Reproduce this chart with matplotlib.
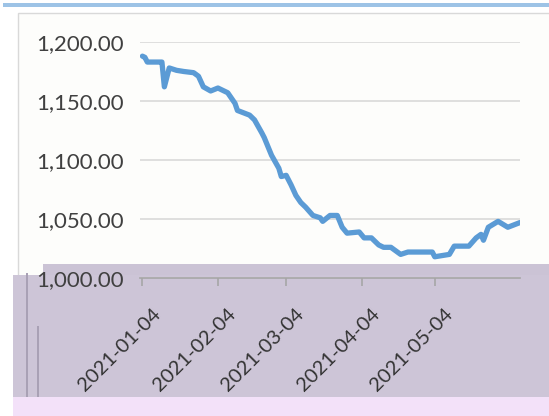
import matplotlib
matplotlib.use('Agg')
import matplotlib.pyplot as plt
from matplotlib.patches import Rectangle
from matplotlib.ticker import FuncFormatter
from matplotlib.transforms import ScaledTranslation
import numpy as np

# values (daily close, 2021)
dates = ['2021-01-04', '2021-01-05', '2021-01-06', '2021-01-11', '2021-01-12',
         '2021-01-13', '2021-01-15', '2021-01-18', '2021-01-21', '2021-01-25',
         '2021-01-27', '2021-01-29', '2021-02-01', '2021-02-04', '2021-02-08',
         '2021-02-11', '2021-02-12', '2021-02-17', '2021-02-19', '2021-02-22',
         '2021-02-23', '2021-02-26', '2021-03-01', '2021-03-02', '2021-03-04',
         '2021-03-06', '2021-03-08', '2021-03-10', '2021-03-12', '2021-03-15',
         '2021-03-18', '2021-03-19', '2021-03-22', '2021-03-25', '2021-03-27',
         '2021-03-29', '2021-04-03', '2021-04-05', '2021-04-08', '2021-04-11',
         '2021-04-13', '2021-04-16', '2021-04-20', '2021-04-23', '2021-05-03',
         '2021-05-04', '2021-05-10', '2021-05-12', '2021-05-18', '2021-05-21',
         '2021-05-23', '2021-05-24', '2021-05-26', '2021-05-30', '2021-06-03',
         '2021-06-08']
values = [1188, 1187, 1183, 1183, 1183,
          1162, 1178, 1176, 1175, 1174,
          1171, 1162, 1158.5, 1161, 1157,
          1148, 1142, 1138, 1134, 1123,
          1119, 1104, 1093, 1086, 1087,
          1079, 1070, 1064, 1060, 1053,
          1051, 1048, 1053, 1053, 1043,
          1038, 1039, 1034, 1034, 1028,
          1026, 1026, 1020, 1022, 1022,
          1018, 1020, 1027, 1027, 1034,
          1037, 1032, 1043, 1048, 1043,
          1047]
tick_dates = ['2021-01-04', '2021-02-04', '2021-03-04', '2021-04-04', '2021-05-04']
y_ticks = [1000, 1050, 1100, 1150, 1200]

x = np.array(dates, dtype='datetime64[D]')
xt = np.array(tick_dates, dtype='datetime64[D]')

fig = plt.figure(figsize=(5.49, 4.16), dpi=100)
W, H = 549.0, 416.0

# background pieces of the screenshot (figure pixel coords, y from top)
def px_rect(x0, y0, x1, y1, **kw):
    r = Rectangle((x0 / W, 1 - y1 / H), (x1 - x0) / W, (y1 - y0) / H,
                  transform=fig.transFigure, **kw)
    fig.patches.append(r)

px_rect(3, 3, 549, 6.5, facecolor='#9dc3e6', edgecolor='none', zorder=-5)
px_rect(18, 12.5, 560, 430, facecolor='#fdfdfb', edgecolor='#d9d9d9', lw=1, zorder=-5)
px_rect(43, 264, 549, 276, facecolor='#cbc3d5', edgecolor='none', zorder=-4)
px_rect(13, 275, 549, 397, facecolor='#cdc5d7', edgecolor='none', zorder=-4)
px_rect(13, 397, 549, 416, facecolor='#f3e1f9', edgecolor='none', zorder=-4)
px_rect(26, 273, 28, 397, facecolor='#a9a1b5', edgecolor='none', zorder=-3)
px_rect(37, 326, 39, 397, facecolor='#a9a1b5', edgecolor='none', zorder=-3)

ax = fig.add_axes([140 / W, 1 - 278 / H, 380 / W, 236 / H])
ax.patch.set_visible(False)

ax.plot(x, values, color='#5b9bd5', linewidth=3.8, solid_joinstyle='round',
        solid_capstyle='round', zorder=3)

ax.set_ylim(1000, 1200)
ax.set_yticks(y_ticks)
ax.yaxis.set_major_formatter(FuncFormatter(lambda v, p: '{:,.2f}'.format(v)))
ax.set_xlim(np.datetime64('2021-01-04') - np.timedelta64(1, 'D'),
            np.datetime64('2021-06-08'))
ax.set_xticks(xt)
ax.set_xticklabels(tick_dates)

ax.grid(axis='y', color='#d9d9d9', linewidth=1.2)
ax.set_axisbelow(True)
for s in ['top', 'right', 'left']:
    ax.spines[s].set_visible(False)
ax.spines['bottom'].set_color('#a6a6a6')
ax.spines['bottom'].set_linewidth(1.2)

ax.tick_params(axis='y', length=0, pad=12, labelsize=16, labelcolor='#404040')
ax.tick_params(axis='x', length=6, width=1.2, color='#a6a6a6', pad=18,
               labelsize=14.5, labelcolor='#333333')
for lab in ax.get_yticklabels() + ax.get_xticklabels():
    lab.set_family('Lato')
offset = ScaledTranslation(11 / 72, 0, fig.dpi_scale_trans)
for lab in ax.get_xticklabels():
    lab.set_rotation(45)
    lab.set_ha('right')
    lab.set_va('center')
    lab.set_rotation_mode('anchor')
    lab.set_transform(lab.get_transform() + offset)

fig.savefig('out.png', dpi=100)
